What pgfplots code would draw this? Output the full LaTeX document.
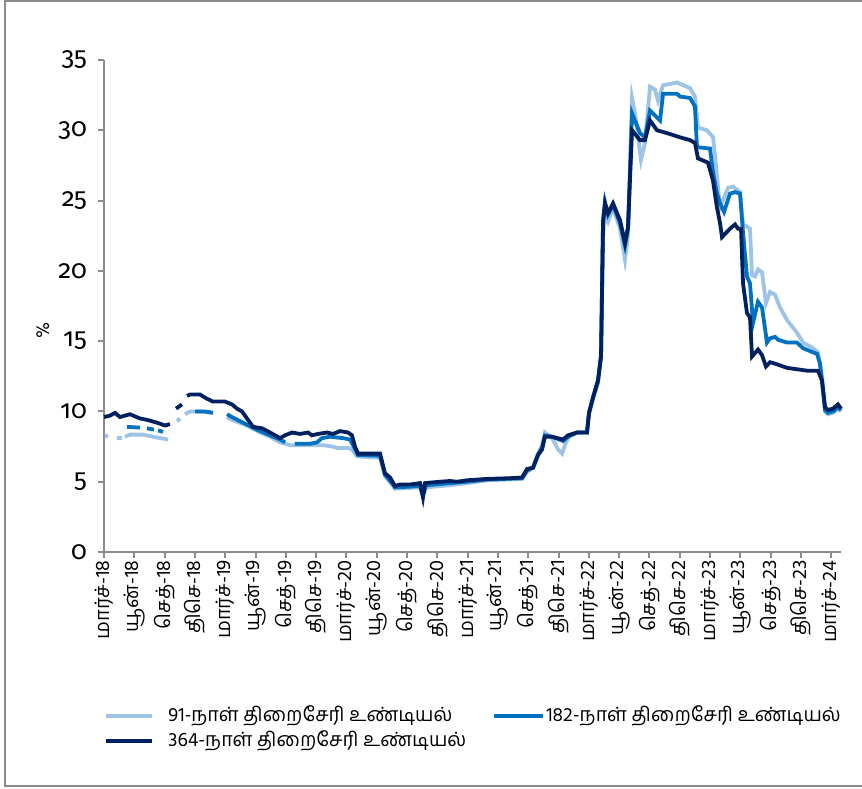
\documentclass[border=0pt]{standalone}
\usepackage{fontspec}
\usepackage{pgfplots}
\usepackage{pgfplotstable}
\pgfplotsset{compat=1.18}
\setmainfont{Hind Madurai}[Script=Tamil]
\newfontfamily\numfont{Fira Sans}[Numbers=OldStyle]

\definecolor{tbill91}{HTML}{9DC3E6}
\definecolor{tbill182}{HTML}{0070C0}
\definecolor{tbill364}{HTML}{002060}
\definecolor{axisgray}{HTML}{8C8C8C}

% months after March 2018, yield in %
\pgfplotstableread{
m y
0.10 8.3
0.40 8.2
nan nan
1.29 8.1
1.78 8.1
nan nan
2.08 8.2
2.57 8.35
3.86 8.35
4.85 8.2
6.34 8.0
nan nan
7.23 9.3
7.52 9.5
nan nan
8.02 9.8
8.51 10.0
9.50 10.0
10.79 9.9
nan nan
12.18 9.6
12.67 9.4
14.16 9.0
15.45 8.5
16.44 8.2
17.43 7.8
18.42 7.6
19.41 7.6
21.68 7.6
22.67 7.5
23.07 7.4
24.16 7.4
24.55 7.3
25.05 6.8
27.33 6.7
27.82 5.4
28.51 4.8
28.81 4.5
31.29 4.6
31.58 4.0
31.88 4.6
34.26 4.75
35.94 4.9
37.92 5.1
41.39 5.2
41.88 5.7
42.48 6.0
42.97 7.0
43.37 7.6
43.66 8.5
44.36 8.1
44.95 7.3
45.35 7.0
45.74 7.8
46.14 8.3
46.83 8.5
47.82 8.5
48.02 9.8
48.42 10.9
48.91 12.0
49.21 14.0
49.41 22.5
49.60 24.0
49.90 23.5
50.40 24.5
51.09 23.0
51.58 20.8
51.88 22.5
52.28 32.3
52.57 31.2
53.17 27.9
53.56 29.1
54.06 33.1
54.55 32.9
54.85 32.1
55.35 33.2
56.73 33.4
58.02 33.0
58.51 32.4
58.81 30.2
59.70 30.0
60.30 29.5
60.59 27.5
60.99 24.5
61.78 25.9
62.28 26.0
62.97 25.6
63.27 23.3
63.96 23.0
64.16 19.7
64.46 19.6
64.75 20.1
65.15 19.9
65.54 17.7
65.94 18.5
66.44 18.3
66.93 17.4
67.62 16.5
68.61 15.6
69.21 14.9
70.20 14.5
70.69 14.2
71.09 12.5
71.39 10.0
71.68 9.8
72.18 9.9
72.67 10.2
72.97 10.0
}\billA

\pgfplotstableread{
m y
2.28 8.9
3.56 8.85
nan nan
4.26 8.8
4.95 8.7
nan nan
5.35 8.65
5.84 8.55
nan nan
9.01 10.0
10.00 10.0
10.79 9.9
nan nan
12.18 9.8
12.67 9.6
13.76 9.2
15.15 8.7
16.44 8.3
17.43 8.0
17.92 7.8
nan nan
18.91 7.7
20.40 7.7
21.09 7.8
21.58 8.1
22.38 8.2
23.66 8.1
24.36 8.0
24.65 7.6
25.15 6.9
27.33 6.85
27.82 5.5
28.51 4.9
28.81 4.6
30.30 4.65
31.29 4.7
31.58 4.0
31.88 4.75
34.26 4.9
35.94 5.0
37.92 5.15
41.39 5.25
41.88 5.8
42.48 6.0
42.97 6.9
43.37 7.4
43.66 8.3
44.36 8.2
45.45 7.9
45.94 8.2
46.83 8.5
47.82 8.5
48.02 9.9
48.42 11.0
48.91 12.2
49.21 14.0
49.41 23.6
49.60 24.9
49.90 24.0
50.40 24.7
51.09 23.4
51.58 21.8
51.88 23.0
52.28 31.2
53.07 29.8
53.56 29.5
54.06 31.4
55.05 30.7
55.35 32.6
56.73 32.6
57.03 32.4
58.02 32.3
58.51 31.7
58.71 28.8
60.00 28.7
60.30 27.0
60.69 25.5
60.99 24.8
61.39 24.2
61.98 25.5
62.48 25.6
62.97 25.5
63.27 22.7
63.66 19.6
63.96 19.1
64.26 16.3
64.75 17.8
65.15 17.4
65.64 14.9
65.94 15.2
66.44 15.3
66.73 15.1
67.62 14.9
68.61 14.9
69.21 14.5
70.20 14.2
70.59 14.1
70.89 13.4
71.39 10.1
71.68 9.9
72.18 10.0
72.67 10.3
72.97 10.1
}\billB

\pgfplotstableread{
m y
0.00 9.6
0.59 9.7
1.09 9.9
1.58 9.6
2.57 9.8
3.56 9.5
4.26 9.4
5.25 9.2
6.04 9.0
6.53 9.1
nan nan
7.13 10.2
7.72 10.5
nan nan
8.22 11.1
8.51 11.2
9.50 11.2
10.20 10.9
10.79 10.7
11.98 10.7
12.67 10.5
13.17 10.2
13.66 10.0
13.96 9.7
14.46 9.2
14.75 8.9
15.64 8.8
16.44 8.5
17.43 8.1
17.92 8.3
18.61 8.5
19.41 8.4
20.20 8.5
20.59 8.3
21.19 8.4
22.08 8.5
22.67 8.4
23.37 8.6
24.16 8.5
24.55 8.3
24.85 7.5
25.15 7.0
26.34 7.0
27.33 7.0
27.82 5.6
28.32 5.3
28.81 4.7
29.31 4.8
30.30 4.8
31.29 4.9
31.58 3.9
31.78 4.9
33.27 5.0
34.26 5.05
34.95 5.0
35.94 5.1
37.92 5.2
40.20 5.25
41.39 5.3
41.88 5.9
42.48 6.0
42.97 6.9
43.37 7.3
43.66 8.2
44.36 8.2
45.45 8.0
45.94 8.3
46.83 8.5
47.82 8.5
48.02 9.9
48.42 11.0
48.91 12.2
49.21 13.9
49.41 23.4
49.60 24.8
49.90 24.1
50.40 24.8
51.09 23.6
51.58 22.0
51.88 23.1
52.28 30.0
53.07 29.3
53.56 29.3
54.06 30.7
54.75 30.0
55.74 29.8
57.03 29.5
58.02 29.3
58.51 29.1
58.81 28.0
59.80 27.7
60.30 26.4
60.69 24.5
60.99 23.4
61.19 22.4
61.98 23.0
62.48 23.3
62.77 23.0
63.07 23.0
63.27 19.1
63.66 17.0
63.96 16.7
64.16 13.9
64.75 14.4
65.15 14.0
65.54 13.2
65.94 13.5
66.44 13.4
67.62 13.1
69.60 12.9
70.69 12.9
71.09 12.2
71.39 10.3
71.68 10.1
72.18 10.2
72.67 10.5
72.97 10.2
}\billC

\begin{document}
\begin{tikzpicture}[x=1pt,y=1pt]
\useasboundingbox (0,0) rectangle (431,394);
\draw[axisgray, line width=1pt] (2.5,1) rectangle (445,393.5);

\begin{axis}[
    at={(52pt,118pt)}, anchor=south west,
    scale only axis,
    width=368.5pt, height=246pt,
    xmin=0, xmax=72.97,
    ymin=0, ymax=35,
    axis x line*=bottom,
    axis y line*=left,
    axis line style={axisgray, line width=1pt},
    tick style={axisgray, line width=1pt},
    tick align=outside,
    major tick length=3pt,
    xtick={0,3,...,72},
    xticklabels={மார்ச்-18,யூன்-18,செத்-18,திசெ-18,மார்ச்-19,யூன்-19,செத்-19,திசெ-19,மார்ச்-20,யூன்-20,செத்-20,திசெ-20,மார்ச்-21,யூன்-21,செத்-21,திசெ-21,மார்ச்-22,யூன்-22,செத்-22,திசெ-22,மார்ச்-23,யூன்-23,செத்-23,திசெ-23,மார்ச்-24},
    x tick label style={rotate=90, anchor=east, font=\fontsize{10}{10}\selectfont, inner sep=1pt},
    ytick={0,5,...,35},
    yticklabel={\numfont\fontsize{13}{13}\selectfont\pgfmathprintnumber[assume math mode=true]{\tick}},
    y tick label style={xshift=-2pt},
    ylabel={\%},
    ylabel style={at={(axis description cs:-0.083,0.45)}, anchor=center, font=\fontsize{9.5}{10}\selectfont},
    unbounded coords=jump,
    clip=false,
]
\addplot[tbill91, line width=1.9pt] table[x=m, y=y] {\billA};
\addplot[tbill182, line width=1.9pt] table[x=m, y=y] {\billB};
\addplot[tbill364, line width=1.9pt] table[x=m, y=y] {\billC};
\end{axis}

% legend
\begin{scope}[font=\fontsize{9.8}{10}\selectfont]
\draw[tbill91, line width=1.9pt] (53,36) -- (76,36);
\node[anchor=west, inner sep=0pt] at (84,36) {91-நாள் திறைசேரி உண்டியல்};
\draw[tbill182, line width=1.9pt] (247,36) -- (271.5,36);
\node[anchor=west, inner sep=0pt] at (273,36) {182-நாள் திறைசேரி உண்டியல்};
\draw[tbill364, line width=1.9pt] (53,23.5) -- (76,23.5);
\node[anchor=west, inner sep=0pt] at (84,23.5) {364-நாள் திறைசேரி உண்டியல்};
\end{scope}
\end{tikzpicture}
\end{document}
